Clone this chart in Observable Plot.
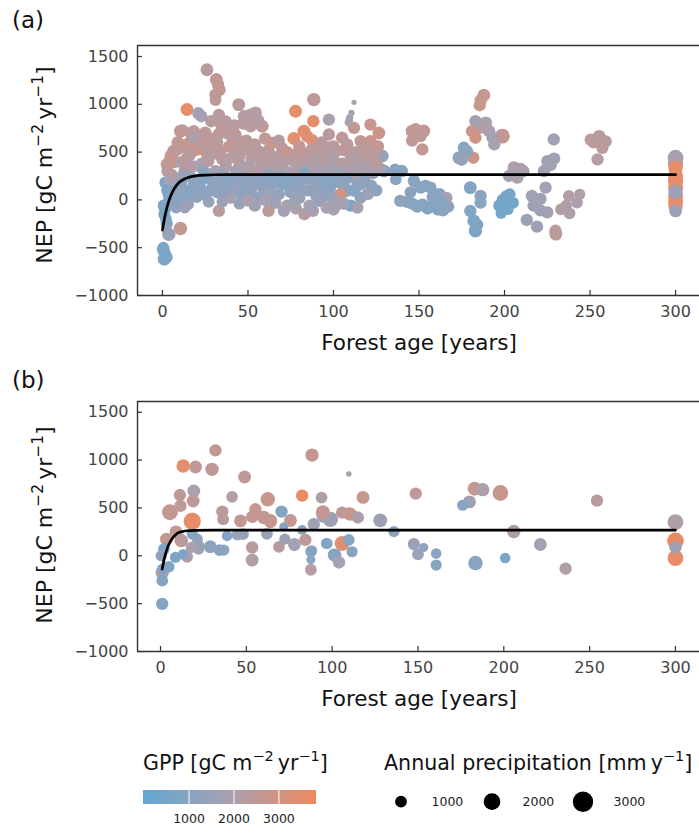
<!DOCTYPE html>
<html><head><meta charset="utf-8">
<script src="https://cdn.jsdelivr.net/npm/d3@7"></script>
<script src="https://cdn.jsdelivr.net/npm/@observablehq/plot@0.6"></script>
<style>
html,body{margin:0;padding:0;background:#fff;}
#chart{width:699px;height:835px;overflow:hidden;}
#chart svg{display:block;}
</style></head><body><div id="chart"></div>
<script>
// ---- tick labels ----
const xTicks = [0, 50, 100, 150, 200, 250, 300];
const yTicks = [-1000, -500, 0, 500, 1000, 1500];
const gppTicks = [1000, 2000, 3000];
const precipTicks = [1000, 2000, 3000];

// ---- panel (a): [forest age, NEP, GPP, annual precipitation] ----
const youngA = [
 [0.5,-520,900,1200],[1.5,-570,700,1100],[1,-620,800,1200],[2.5,-600,750,1000],[0.5,-500,700,1000],
 [3.7,-360,1500,1300],[10.5,-300,2600,1300],
 [0.8,-60,600,1100],[1,-150,900,1000],[1.5,-100,700,1000],[2,-200,800,1000],[2.5,-250,1300,1100],[3,-40,900,1100],
 [1.8,180,600,1100],[2.7,100,700,1000],[3.5,60,700,1000],[4,20,800,1000],[5,-20,900,1000],[6.6,160,1100,1100],
 [6,60,900,1000],[7,0,1000,1000],[8,-80,1200,1000],[9,100,1300,1000],[10.6,24,800,1100],[12,-50,1000,1000],
 [2.7,372,2600,1200],[4.7,424,2500,1200],[6.6,511,2500,1200],[3,300,2400,1100],[5,460,2600,1200],[7,400,2700,1200],
 [8,520,2400,1100],[10.6,545,2500,1100],[11,395,2000,1100],[10.5,719,2600,1200],[9,600,2500,1200],
 [5.5,260,2200,1100],[7.5,220,2300,1100],[4,200,1900,1100]
];
const earlyA = [
 [14.4,945,3500,1200],[21,906,1800,1100],[22.7,875,1800,1100],[26,1362,2300,1200],
 [31.5,1260,2600,1200],[32.5,1205,2600,1100],[33.4,1150,2600,1100],[31,1100,2500,1100],[31,1045,2500,1000],
 [28.5,823,2300,1100],[33,889,2300,1100],[11.6,726,2500,1100],[16.4,701,2500,1100],[18.4,718,2400,1100],
 [15.4,590,2700,1200],[17.4,511,2600,1200],
 [14,430,2500,1100],[16,470,2300,1100],[19,640,1900,1100],[22,600,2400,1100],[24,560,2500,1100],[26,480,2300,1100],
 [27,406,2300,1000],[29,476,2200,1100],[23,380,2000,1100],[18,350,2100,1100],[13,300,2300,1100],[25,700,2400,1200],[28,640,2500,1100],
 [13.5,94,1000,1100],[16.4,59,900,1100],[15,-45,1400,1000],[13,-80,1600,1000],[24,302,1100,1100],[26,268,1200,1100],
 [29,198,1200,1100],[18,150,1100,1000],[22,120,1000,1100],[25,50,1100,1100],[28,100,1200,1100],[20,30,1300,1000],
 [27,-20,1500,1000],[23,210,1000,1100],[30,140,1100,1100],[17,230,1200,1000],[11,180,1100,1000],[12,260,1500,1000],
 [20.3,545,3600,1800],[20.3,163,3600,1800]
];
const midA = [
 [44.6,997,2400,1200],[47.6,875,2200,1100],[51.5,892,2200,1100],[54.4,910,2200,1200],[47.6,800,2300,1200],
 [51.5,770,2300,1100],[58.3,770,2500,1200],[56,830,2200,1100],[34,800,2400,1100],[42,780,2300,1100],[37,820,2300,1100],
 [33,690,2400,1100],[35,720,2500,1100],[38,700,2400,1200],[40.5,660,2300,1100],[42.7,680,2400,1100],[44.6,615,2300,1100],
 [46,511,2400,1100],[34,511,2500,1100],[35,424,2400,1100],[32,600,2300,1100],[40,560,2500,1100],[30,560,2400,1100],
 [49,620,2400,1100],[50,530,2300,1100],[54,580,2300,1100],[56,510,2400,1100],[60,640,2500,1100],[62,520,2500,1100],
 [52,430,2200,1100],[58,350,2300,1100],[62,400,2400,1100],[65,380,2200,1100],[37,350,2200,1100],[41,450,2100,1100],
 [45,380,2300,1100],[48,320,2100,1100],[55,300,2200,1000],[39,560,2600,1100],
 [31,300,1800,1100],[36,260,1500,1100],[38,420,2200,1100],[43,300,1800,1100],[45,460,2300,1100],[49,240,1500,1100],
 [51,350,2000,1100],[53,480,2400,1100],[57,420,2200,1100],[59,260,1500,1100],[61,480,2300,1100],[64,290,1700,1100],
 [31,180,1200,1100],[34,230,1100,1100],[36,160,1300,1100],[39,200,1000,1100],[41,130,1200,1100],[44,220,1100,1100],
 [46,170,1300,1100],[48,110,1200,1000],[50,200,1100,1100],[53,150,1300,1100],[55,230,1200,1100],[57,180,1000,1100],
 [59,120,1300,1100],[61,200,1100,1100],[63,150,1200,1100],[65,240,1000,1100],
 [32,80,1300,1100],[37,60,1100,1100],[42,90,1400,1100],[47,40,1200,1100],[52,70,1400,1100],[57,20,1300,1100],
 [62,60,1500,1100],[35,-20,1600,1000],[45,-40,1500,1000],[54,-60,1700,1100],
 [33,-115,2400,1100],[62,-115,2500,1100],[40,20,1800,1000],[50,-10,1900,1000],[60,0,1800,1100]
];
const matureA = [
 [88.5,1049,2500,1300],[77.8,927,3500,1200],[88.2,823,3500,1100],[97.3,840,1900,1100],
 [112,1021,1900,200],[110.5,910,1900,290],[109.4,858,1900,400],[109,813,2000,520],
 [76.8,642,3500,1200],[82.7,719,3500,1200],[84.6,664,3400,1100],[87.5,625,3300,1100],[64,597,2700,1100],[97.3,684,2400,1100],
 [112,753,2600,1100],[121.6,788,2700,1100],[126.5,700,2800,1200],[115.8,615,2500,1100],[121.6,615,2700,1100],
 [71,459,800,1100],[128.5,459,1400,1200],
 [93,600,2300,1100],[100,560,2400,1100],[105,650,2500,1100],[108,580,2200,1100],[118,540,2400,1100],[124,560,2600,1100],
 [90,520,2300,1100],[80,560,2600,1100],[70,540,2500,1100],[68,620,2300,1100],[73,500,2700,1100],
 [67,450,2300,1100],[70,380,2100,1100],[74,260,1500,1100],[77,470,2400,1100],[79,240,1300,1100],[81,500,2500,1100],
 [83,350,2000,1100],[86,300,1800,1100],[87,520,2400,1100],[89,250,1400,1100],[91,350,1900,1100],[94,380,2200,1100],
 [96,260,1500,1100],[97,550,2300,1100],[99,200,1300,1100],[101,500,2300,1100],[103,350,2000,1100],[104,240,1400,1100],
 [106,520,2500,1100],[107,90,1200,1100],[109,380,2000,1100],[111,300,1700,1100],[113,500,2400,1100],[114,180,1300,1100],
 [116,480,2300,1100],[117,260,1500,1100],[119,380,2100,1100],[121,500,2500,1100],[123,280,1600,1100],[124,450,2300,1100],
 [126,560,2600,1100],[127,330,1800,1100],
 [75,420,2300,1100],[80,380,2200,1100],[85,450,2300,1100],[90,400,2100,1100],[95,470,2200,1100],[100,420,2000,1100],
 [105,380,2300,1100],[110,460,2200,1100],[115,400,2100,1100],[120,430,2300,1100],[125,380,2400,1100],[88,340,2000,1100],
 [98,320,1900,1100],[108,330,2100,1100],[118,340,2000,1100],[78,320,2100,1100],[68,330,2200,1100],[82.7,285,1300,1100],
 [72,300,1900,1100],[93,280,1800,1100],[103,290,1700,1100],[113,280,1900,1100],
 [129.5,302,1100,1200],[136,320,1000,1000],[136.4,215,1000,1000],
 [71,163,900,1100],[76,200,1000,1100],[80,140,1200,1100],[85,220,1100,1100],[90,170,1200,1100],[95,210,1000,1100],
 [98,128,900,1100],[98,42,1000,1100],[102,190,1100,1100],[106,150,1200,1100],[110,-60,500,1100],[104,59,3000,1100],
 [115.8,163,1200,1100],[115.8,24,1300,1100],[112,100,1000,1200],[118,200,1200,1100],[122,150,1300,1100],[125,100,1200,1100],
 [120,60,1500,1100],[75,80,1300,1100],[80,20,1500,1100],[85,100,1400,1100],[90,40,1500,1100],[92,-10,1400,1100],
 [95,70,1300,1100],[100,0,1500,1100],[88,-115,1900,1100],[100,-100,2000,1100],[71,-115,1800,1100],[66,-30,1700,1100],
 [68,60,1400,1100],[73,-60,1900,1100],[106,-40,1700,1100],[114,-80,1800,1100],[83,-150,2200,1100],[78,-90,2000,1100],
 [66,180,1100,1100],[69,240,1000,1100],[84,250,1100,1100],[108,230,1100,1100],
 [102,-50,1800,1100],[96,-80,1900,1100],[86,-60,1800,1100],[77,-30,1700,1100],[93,130,1200,1100],[87,100,1300,1100]
];
const oldA = [
 [146,719,2500,1200],[148,736,2600,1200],[150.9,667,2500,1100],[152.8,720,2600,1200],[151.9,528,2600,1100],[146,620,2500,1100],
 [140,302,1100,1100],[147,198,1000,1100],[150.9,128,1100,1100],[153.8,146,1000,1100],[156.7,128,1000,1100],
 [139,-10,1200,1100],[143,-20,1100,1100],[146,-40,1000,1100],[149,-70,1100,1100],[152,-50,1000,1100],[155,-90,900,1100],
 [158,-60,1000,1100],[161,-100,900,1100],[164,-110,1000,1100],[167,-70,1200,1100],[158,30,1100,1100],[162,60,1000,1100],
 [166,20,1800,1100],[163,-20,1000,1100],[145,80,1100,1000],
 [173.3,441,1300,1200],[176.2,545,900,1100],[181.7,441,2800,1100],[178,510,1200,1100],[175,420,1400,1100],
 [183,823,1800,1100],[187.9,1094,2600,1200],[186,1040,2700,1100],[185.5,990,2700,1100],[181,719,2800,1100],[183,650,3000,1100],
 [189,806,1900,1200],[191,719,2000,1100],[193,650,1800,1100],[194,580,1900,1100],[198.7,667,2600,1600],[186,760,2200,1200],
 [180,128,900,1200],[186,42,1100,1100],[186,-28,1000,1100],[180,-115,900,1100],[182,-220,800,1200],[183,-323,700,1300],[184,-260,800,1100],
 [197,-60,400,1100],[199,0,500,1100],[201,40,450,1000],[203,60,600,1000],[205,-30,500,1000],[198,-140,500,900],[202,-100,600,900],
 [205.5,337,2100,1200],[209.4,320,2100,1200],[202.6,250,1900,1100],[207.5,233,2000,1100],[211,300,1900,1100],
 [213,-210,1600,1100],[219,-280,1600,1100],[216,42,1700,1100],[217,-60,1600,1100],[225,-130,1800,1100],
 [223,302,1700,1100],[225,406,1700,1100],[228.8,632,1700,1100],[229,432,1600,1100],[227,365,1700,1100],[224,128,1700,1100],
 [221,10,1700,1100],[221,-110,1700,1100],
 [237.6,42,2200,1000],[244,59,2100,900],[242.4,-28,2000,1000],[236,-60,2100,1000],[233,-100,2200,1000],[238,-140,2000,1000],
 [229.8,-323,2400,1100],[230,-358,2500,1200],
 [250.4,629,2300,1100],[255.3,664,2300,1200],[259.1,611,2300,1100],[257.2,545,2400,1100],[254.4,424,2200,1100],[252,600,2400,1000]
];
const maxAgeA = [
 [300,337,3600,1500],[300,250,3500,1600],[300,198,3700,1700],[300,130,3600,1600],[300,40,3700,1600],[300,-20,3600,1600],
 [300,-60,3500,1500],[300,441,1800,1800],[300,380,2000,1700],[300,83,1600,1500],[300,-115,1600,1200]
];
// fitted curve: [age, NEP]
const fitA = [[0,-316],[1,-211],[2,-125],[3,-54],[4,3],[6,89],[8,147],[10,186],[12,211],[15,235],[20,253],[25,260],[30,263],[40,264],[300,264]];

// ---- panel (b): [forest age, NEP, GPP, annual precipitation] ----
const sitesB1 = [
 [32,1101,2600,1100],[13.2,938,3500,1300],[20.4,927,2500,1200],[30,903,2500,1300],[49,823,2500,1200],[41.7,615,2100,1000],
 [11.3,635,2500,1100],[19.4,677,1900,1200],[19,573,2500,1200],[5.5,455,2600,1800],[11.6,521,2500,1100],
 [36,462,2400,1100],[36.5,382,2300,1000],[46.6,365,2600,1200],
 [3.5,174,2600,1200],[9,250,2500,1200],[12.6,156,2300,1000],[18.5,226,1000,900],[21.4,174,1300,900],[22.3,104,1600,1000],
 [22.3,70,1500,900],[2,70,700,1000],[0.4,0,1300,900],[8.7,-17,800,900],[13.2,17,900,800],[15.5,-10,2000,1000],
 [29,95,1100,1200],[34.4,60,1200,1000],[36.9,60,1200,900],[38.8,208,900,800],[44.7,219,1500,900],[48,226,1300,1000],
 [1,-174,2500,1300],[1,-260,900,1000],[1,-503,900,1100],[4.8,-115,800,1000],[1.2,-140,900,900],[12,160,2600,1300],[17.9,87,2000,900],
 [18.5,362,3600,2100]
];
const sitesB2 = [
 [55.3,486,2600,1100],[53.4,406,2600,1100],[62.5,590,2700,1500],[60.2,400,2600,1300],[64,365,2700,1400],[70.5,462,900,1100],
 [53.4,87,2300,1100],[53.4,-45,2100,1200],[62,230,1500,1000],[69,94,2300,1000],[75.7,372,1700,1100],[78,113,1700,1100],
 [82.5,628,3700,1100],[82.5,270,900,700],[84.4,167,2500,1100],[88.3,1052,2600,1300],[87.6,43,900,900],[87.6,-40,1000,600],
 [87.6,-146,2200,1000],[89.3,330,1700,1100],[93.8,608,2100,1000],[94.6,455,2600,1400],[95,420,1700,1500],[99,380,1600,1700],
 [96.7,128,900,900],[101,10,1000,1100],[104,-70,1800,1100],[109.7,855,2000,220],[118,610,2700,1200],[110,440,2800,1200],
 [105.8,451,2500,1100],[110.7,434,2800,1200],[115,400,2000,1100],[128,370,1600,1400],[75.7,365,2700,1100],[64,350,2600,1000],
 [71.8,302,900,600],[72.4,174,1600,900],[78,122,1800,1100],[97,128,900,900],[88,52,900,900],[101.5,7,1000,1300],
 [111.6,42,1000,900],[109.7,167,1000,1000],[105.8,128,3400,1600]
];
const sitesB3 = [
 [136,252,1000,900],[148.7,649,2500,1100],[147.6,122,1600,1100],[153.3,87,1100,600],[150,14,1500,1000],[160.6,24,1000,800],
 [160.6,-97,1000,900],[176,528,1000,900],[180,563,1700,1200],[183,701,2600,1400],[187.7,691,2000,1300],[198,656,2700,1800],
 [183.5,-76,1000,1500],[200.8,-24,700,800],[205.8,253,2100,1300],[221.3,118,1700,1200],[236,-135,2100,1100],[254.3,576,2400,1100],
 [300,156,3700,2000],[300,-24,3600,1800],[300,351,2100,1800],[300,87,1600,1100]
];
const fitB = [[1,-139],[2,-48],[3,23],[4,80],[5,124],[6,159],[8,206],[10,236],[13,254],[16,262],[20,266],[30,268],[300,268]];

// ---- shared scales ----
const colorOpts = {type: "linear", domain: [-25, 1900, 3825], range: ["#60a8d4", "#a9a0b0", "#f08a5f"]};
const rOpts = {type: "sqrt", domain: [0, 3000], range: [0, 10.2]};
const FONT = "DejaVu Sans, sans-serif";
const minus = d => d < 0 ? "\u2212" + Math.abs(d) : String(d);

function rich(textSel, parts, size) {
  let cur = 0;
  for (const [s, sup] of parts) {
    const target = sup ? -0.42 * size : 0;
    const ts = textSel.append("tspan").text(s).attr("dy", target - cur);
    if (sup) ts.attr("font-size", size * 0.7);
    cur = target;
  }
}

function panel(rows, fit, tag, xDomain, yDomain, mTop, mBottom) {
  const H = 360, W = 699, mL = 137, mR = 0;
  const innerH = H - mTop - mBottom, innerW = W - mL - mR;
  const svg = Plot.plot({
    width: W, height: H,
    marginLeft: mL, marginRight: mR, marginTop: mTop, marginBottom: mBottom,
    style: {fontFamily: FONT, background: "white", overflow: "visible"},
    x: {domain: xDomain},
    y: {domain: yDomain},
    r: rOpts,
    color: colorOpts,
    marks: [
      Plot.dot(rows, {x: d => d[0], y: d => d[1], r: d => d[3], fill: d => d[2]}),
      Plot.line(fit, {x: d => d[0], y: d => d[1], stroke: "black", strokeWidth: 2.7, curve: "monotone-x"}),
      Plot.ruleX(xTicks, {x: d => d, insetTop: innerH - 5, stroke: "#333", strokeWidth: 1.2}),
      Plot.ruleY(yTicks, {y: d => d, insetRight: innerW - 5, stroke: "#333", strokeWidth: 1.2}),
      Plot.ruleY([yDomain[1]], {stroke: "#333", strokeWidth: 1.4}),
      Plot.ruleY([yDomain[0]], {stroke: "#333", strokeWidth: 1.4}),
      Plot.ruleX([xDomain[0]], {stroke: "#333", strokeWidth: 1.4}),
      Plot.axisX(xTicks, {tickSize: 0, tickPadding: 10, fontSize: 16, color: "#444", label: null, tickFormat: minus}),
      Plot.axisY(yTicks, {tickSize: 0, tickPadding: 9, fontSize: 16, color: "#444", label: null, tickFormat: minus})
    ]
  });
  const s = d3.select(svg);
  s.append("text").attr("x", 12).attr("y", 28).attr("text-anchor", "start").attr("font-size", 23)
    .attr("font-family", FONT).attr("fill", "#111").text(tag);
  const yl = s.append("text").attr("transform", "translate(52,165) rotate(-90)")
    .attr("text-anchor", "middle").attr("font-size", 22).attr("font-family", FONT).attr("fill", "#111");
  rich(yl, [["NEP [gC m", false], ["\u22122", true], ["\u2009yr", false], ["\u22121", true], ["]", false]], 22);
  s.append("text").attr("x", 419).attr("y", H - mBottom + 55).attr("text-anchor", "middle")
    .attr("font-size", 21.5).attr("font-family", FONT).attr("fill", "#111").text("Forest age [years]");
  return svg;
}

const chart = document.getElementById("chart");
chart.appendChild(panel([...youngA, ...earlyA, ...midA, ...matureA, ...oldA, ...maxAgeA], fitA, "(a)", [-14.6, 314], [-1000, 1615], 45, 65));
chart.appendChild(panel([...sitesB1, ...sitesB2, ...sitesB3], fitB, "(b)", [-13.4, 314], [-1000, 1612], 41, 69));

// ---- legend ----
const cScale = Plot.scale({color: colorOpts});
const rScale = Plot.scale({r: rOpts});
const leg = d3.create("svg").attr("width", 699).attr("height", 115).style("font-family", FONT);
const t1 = leg.append("text").attr("x", 143).attr("y", 50).attr("font-size", 20.6).attr("fill", "#111");
rich(t1, [["GPP [gC m", false], ["\u22122", true], ["\u2009yr", false], ["\u22121", true], ["]", false]], 20.6);
const cbX = d3.scaleLinear([-25, 3825], [143, 316]);
const grad = leg.append("defs").append("linearGradient").attr("id", "gppgrad");
d3.range(0, 1.0001, 0.05).forEach(t => {
  grad.append("stop").attr("offset", t).attr("stop-color", cScale.apply(cbX.invert(143 + t * 173)));
});
leg.append("rect").attr("x", 143).attr("y", 70).attr("width", 173).attr("height", 14).attr("fill", "url(#gppgrad)");
gppTicks.forEach(v => {
  leg.append("line").attr("x1", cbX(v)).attr("x2", cbX(v)).attr("y1", 70).attr("y2", 84).attr("stroke", "white").attr("stroke-width", 1);
  leg.append("text").attr("x", cbX(v)).attr("y", 103).attr("text-anchor", "middle").attr("font-size", 12.5).attr("fill", "#222").text(v);
});
const t2 = leg.append("text").attr("x", 384).attr("y", 50).attr("font-size", 20.6).attr("fill", "#111");
rich(t2, [["Annual precipitation [mm\u2009y", false], ["\u22121", true], ["]", false]], 20.6);
precipTicks.forEach((v, i) => {
  const cx = 401 + i * 91;
  leg.append("circle").attr("cx", cx).attr("cy", 81.7).attr("r", rScale.apply(v)).attr("fill", "black");
  leg.append("text").attr("x", cx + 30.5).attr("y", 86).attr("font-size", 12.5).attr("fill", "#222").text(v);
});
chart.appendChild(leg.node());
</script>
</body></html>
